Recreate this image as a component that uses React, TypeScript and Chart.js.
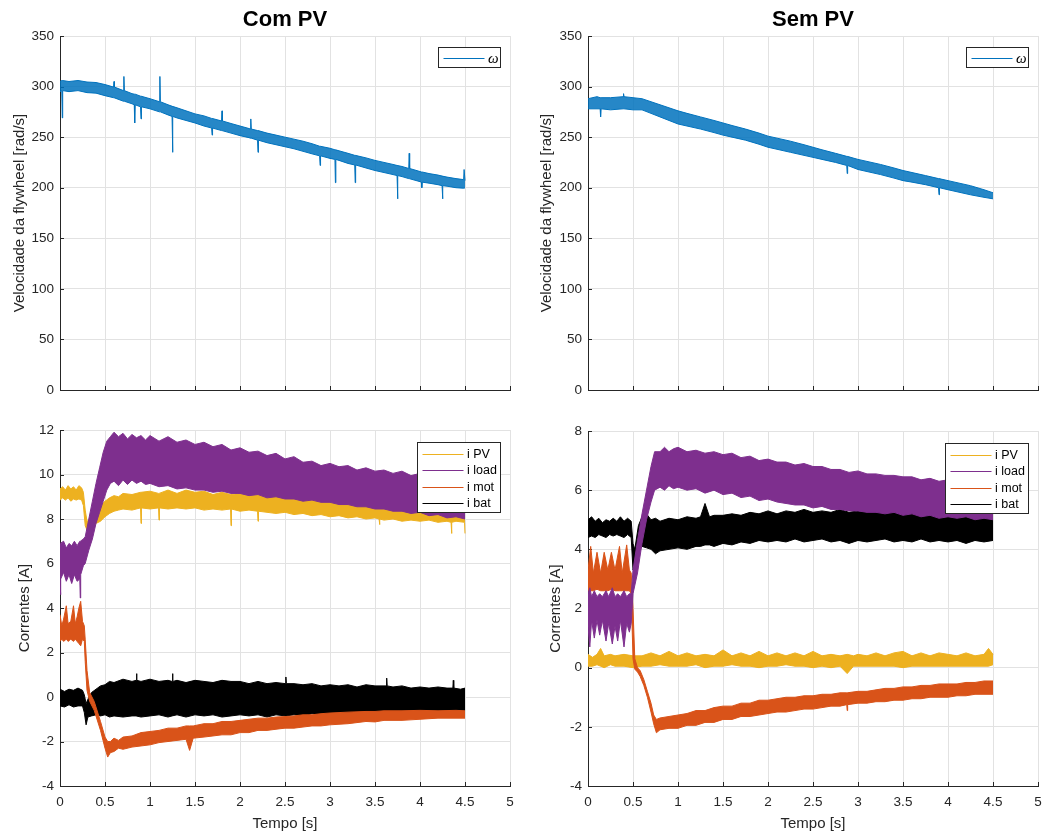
import React, { useEffect, useRef } from 'react';
import { Chart, registerables } from 'chart.js';

Chart.register(...registerables);

type Row = [number, number, number]; // [time, upper edge, lower edge]

const FONT = '"Liberation Sans", Arial, Helvetica, sans-serif';
const TEXT = '#262626';
const GRID = '#e2e2e2';

const C_OMEGA = '#0072BD';
const C_PV = '#EDB120';
const C_LOAD = '#7E2F8E';
const C_MOT = '#D95319';
const C_BAT = '#000000';

const titles = ['Com PV', 'Sem PV'];
const yLabelTop = 'Velocidade da flywheel [rad/s]';
const yLabelBottom = 'Correntes [A]';
const xLabel = 'Tempo [s]';
const legendTop = ['\u03c9'];
const legendBottom = ['i PV', 'i load', 'i mot', 'i bat'];

// ---- Com PV: flywheel speed band [t, hi, lo]
const omegaCom: Row[] = [
  [0.0, 305, 295], [0.02, 306, 296], [0.025, 306, 269], [0.03, 306, 296],
  [0.1, 305, 295], [0.2, 306, 296], [0.3, 304.5, 294], [0.4, 304, 293.5],
  [0.5, 302, 291], [0.595, 299.5, 289], [0.6, 305, 289], [0.605, 299.5, 289],
  [0.705, 296, 285.5], [0.71, 310, 285.5], [0.715, 296, 285.5], [0.8, 293, 283],
  [0.825, 292.5, 282], [0.83, 292.5, 264], [0.835, 292.5, 282], [0.895, 290.5, 280],
  [0.9, 290.5, 268], [0.905, 290.5, 280], [1.0, 288, 278], [1.105, 285, 275],
  [1.11, 310, 275], [1.115, 285, 275], [1.2, 282, 272], [1.245, 280.5, 270.5],
  [1.25, 280.5, 235], [1.255, 280.5, 270.5], [1.3, 279, 269], [1.4, 276, 266.5],
  [1.5, 273, 264], [1.6, 271, 261], [1.685, 268.5, 259], [1.69, 268.5, 252],
  [1.695, 268.5, 259], [1.795, 266, 256.5], [1.8, 276, 256.5], [1.805, 266, 256.5],
  [1.9, 263.5, 254], [2.0, 261, 251.5], [2.1, 258.5, 249.5], [2.115, 258, 249],
  [2.12, 268, 249], [2.125, 258, 249], [2.195, 256.5, 247], [2.2, 256.5, 235],
  [2.205, 256.5, 247], [2.3, 254, 244.5], [2.4, 252, 242.5], [2.5, 250, 240.5],
  [2.6, 248, 238.5], [2.7, 246, 236], [2.8, 243.5, 233.5], [2.885, 241, 231.5],
  [2.89, 241, 222], [2.895, 241, 231.5], [3.0, 239, 229], [3.055, 237.5, 228],
  [3.06, 237.5, 205], [3.065, 237.5, 228], [3.1, 236.5, 227], [3.2, 234, 224],
  [3.275, 232, 222.5], [3.28, 232, 205], [3.285, 232, 222.5], [3.4, 229.5, 219.5],
  [3.5, 227, 217], [3.6, 225, 215], [3.7, 223, 213], [3.745, 222, 212],
  [3.75, 222, 189], [3.755, 222, 212], [3.8, 221, 211], [3.875, 219, 209],
  [3.88, 234, 209], [3.885, 219, 209], [4.0, 216, 206], [4.015, 215.5, 205.5],
  [4.02, 215.5, 200], [4.025, 215.5, 205.5], [4.1, 214, 204.5], [4.2, 212.5, 203],
  [4.245, 211.5, 202], [4.25, 211.5, 189], [4.255, 211.5, 202], [4.3, 210.5, 201.5],
  [4.4, 209, 200], [4.485, 208, 199.5], [4.49, 218, 199.5], [4.5, 207, 200],
];

// ---- Sem PV: flywheel speed band
const omegaSem: Row[] = [
  [0.0, 288, 278], [0.1, 290, 278], [0.135, 289, 278], [0.14, 289, 270],
  [0.145, 289, 278], [0.25, 289, 277], [0.39, 290, 278], [0.395, 293, 278],
  [0.4, 290, 278], [0.5, 289, 277], [0.6, 288, 277], [0.7, 285, 273.5],
  [0.8, 282, 270], [0.9, 279, 266.5], [1.0, 276, 263], [1.1, 273.5, 261],
  [1.25, 270, 258], [1.4, 266.5, 254.5], [1.5, 264, 252], [1.6, 261.5, 250],
  [1.75, 258, 247], [1.9, 254, 243], [2.0, 251, 240], [2.1, 249, 238],
  [2.25, 246, 235], [2.4, 242.5, 232], [2.5, 240, 230], [2.6, 237.5, 228],
  [2.75, 234, 225], [2.875, 231, 222], [2.88, 231, 214], [2.885, 231, 222],
  [3.0, 228, 218], [3.1, 226, 216], [3.25, 223, 213], [3.4, 219.5, 209.5],
  [3.5, 217, 207], [3.6, 215, 205.5], [3.75, 212, 203], [3.895, 209, 200],
  [3.9, 209, 193], [3.905, 209, 200], [4.0, 207, 198], [4.1, 205, 196],
  [4.25, 202, 193], [4.4, 198, 190.5], [4.5, 195, 189],
];

// ---- Com PV currents
const pvCom: Row[] = [
  [0.0, 9.35, 8.85], [0.03, 9.45, 8.95], [0.06, 9.3, 8.85], [0.09, 9.5, 8.95],
  [0.12, 9.35, 8.8], [0.15, 9.45, 8.9], [0.18, 9.3, 8.85], [0.21, 9.5, 8.9],
  [0.24, 9.4, 8.85], [0.26, 9.2, 8.6], [0.28, 8.4, 7.7], [0.3, 7.9, 7.5],
  [0.35, 8.0, 7.6], [0.4, 8.3, 7.8], [0.45, 8.6, 7.9], [0.5, 8.8, 8.1],
  [0.55, 8.95, 8.25], [0.6, 9.05, 8.35], [0.65, 9.0, 8.4], [0.7, 9.15, 8.45],
  [0.8, 9.1, 8.4], [0.895, 9.2, 8.5], [0.9, 9.2, 7.8], [0.905, 9.2, 8.5],
  [1.0, 9.25, 8.45], [1.095, 9.15, 8.5], [1.1, 9.15, 7.95], [1.105, 9.15, 8.5],
  [1.2, 9.3, 8.45], [1.3, 9.15, 8.5], [1.4, 9.3, 8.45], [1.5, 9.2, 8.5],
  [1.6, 9.25, 8.4], [1.7, 9.1, 8.45], [1.8, 9.2, 8.4], [1.895, 9.1, 8.45],
  [1.9, 9.1, 7.7], [1.905, 9.1, 8.45], [2.0, 9.15, 8.35], [2.1, 9.05, 8.4],
  [2.195, 9.1, 8.35], [2.2, 9.1, 7.9], [2.205, 9.1, 8.35], [2.3, 9.0, 8.3],
  [2.4, 9.05, 8.25], [2.5, 8.95, 8.3], [2.6, 9.0, 8.2], [2.7, 8.9, 8.25],
  [2.8, 8.95, 8.15], [2.9, 8.85, 8.2], [3.0, 8.9, 8.1], [3.1, 8.8, 8.15],
  [3.2, 8.85, 8.05], [3.3, 8.75, 8.1], [3.4, 8.8, 8.0], [3.5, 8.7, 8.05],
  [3.545, 8.7, 8.0], [3.55, 8.7, 7.75], [3.555, 8.7, 8.0], [3.6, 8.75, 7.95],
  [3.7, 8.65, 8.0], [3.8, 8.7, 7.9], [3.9, 8.6, 7.95], [4.0, 8.65, 7.9],
  [4.1, 8.55, 7.95], [4.2, 8.6, 7.85], [4.3, 8.5, 7.9], [4.345, 8.5, 7.85],
  [4.35, 8.5, 7.35], [4.355, 8.5, 7.85], [4.4, 8.45, 7.9], [4.495, 8.4, 7.85],
  [4.5, 8.4, 7.35],
];

const loadCom: Row[] = [
  [0.0, 6.9, 5.2], [0.005, 6.9, 4.6], [0.01, 6.9, 5.3], [0.04, 7.0, 5.6],
  [0.07, 6.7, 5.2], [0.1, 6.9, 5.5], [0.13, 6.8, 5.1], [0.16, 7.0, 5.5],
  [0.19, 6.8, 5.2], [0.22, 7.0, 5.3], [0.225, 7.0, 4.45], [0.23, 7.0, 5.5],
  [0.26, 7.1, 5.9], [0.28, 7.2, 6.0], [0.32, 8.0, 6.6], [0.36, 8.8, 7.1],
  [0.4, 9.6, 7.8], [0.44, 10.3, 8.3], [0.48, 11.0, 8.8], [0.52, 11.5, 9.3],
  [0.56, 11.7, 9.6], [0.6, 11.9, 9.7], [0.65, 11.7, 9.5], [0.7, 11.85, 9.75],
  [0.75, 11.6, 9.55], [0.8, 11.8, 9.75], [0.85, 11.65, 9.6], [0.9, 11.75, 9.7],
  [0.95, 11.55, 9.55], [1.0, 11.75, 9.6], [1.1, 11.5, 9.45], [1.2, 11.7, 9.5],
  [1.3, 11.45, 9.35], [1.4, 11.55, 9.4], [1.5, 11.35, 9.3], [1.6, 11.45, 9.3],
  [1.7, 11.25, 9.2], [1.8, 11.35, 9.25], [1.9, 11.1, 9.15], [2.0, 11.2, 9.15],
  [2.1, 11.0, 9.05], [2.2, 11.05, 9.1], [2.3, 10.85, 8.95], [2.4, 10.95, 9.0],
  [2.5, 10.7, 8.9], [2.6, 10.8, 8.9], [2.7, 10.55, 8.8], [2.8, 10.6, 8.85],
  [2.9, 10.4, 8.75], [3.0, 10.5, 8.75], [3.1, 10.35, 8.65], [3.2, 10.4, 8.65],
  [3.3, 10.2, 8.55], [3.4, 10.3, 8.55], [3.5, 10.15, 8.45], [3.6, 10.2, 8.45],
  [3.7, 10.05, 8.35], [3.8, 10.15, 8.35], [3.9, 9.95, 8.25], [4.0, 10.05, 8.3],
  [4.1, 9.9, 8.15], [4.2, 9.95, 8.2], [4.3, 9.8, 8.05], [4.4, 9.85, 8.1],
  [4.5, 9.7, 8.0],
];

const motCom: Row[] = [
  [0.0, 3.7, 2.5], [0.02, 3.2, 2.6], [0.04, 3.5, 2.5], [0.07, 4.1, 2.6],
  [0.09, 3.3, 2.5], [0.12, 3.4, 2.6], [0.15, 4.1, 2.5], [0.17, 3.3, 2.6],
  [0.19, 3.6, 2.5], [0.21, 4.0, 2.4], [0.23, 4.3, 2.3], [0.25, 3.4, 2.6],
  [0.27, 3.2, 2.5], [0.28, 2.6, 1.6], [0.3, 1.2, 0.3], [0.33, 0.2, -0.2],
  [0.38, -0.2, -0.6], [0.45, -1.1, -1.5], [0.5, -1.8, -2.3], [0.53, -2.0, -2.7],
  [0.56, -2.0, -2.5], [0.6, -1.85, -2.45], [0.65, -1.95, -2.3], [0.7, -1.8, -2.35],
  [0.8, -1.75, -2.25], [0.9, -1.6, -2.2], [1.0, -1.55, -2.15], [1.1, -1.5, -2.05],
  [1.2, -1.4, -2.0], [1.3, -1.4, -1.95], [1.4, -1.3, -1.9], [1.44, -1.3, -2.4],
  [1.48, -1.3, -1.85], [1.6, -1.2, -1.8], [1.7, -1.2, -1.75], [1.8, -1.1, -1.7],
  [1.9, -1.1, -1.7], [2.0, -1.05, -1.6], [2.1, -1.0, -1.6], [2.2, -0.95, -1.5],
  [2.3, -0.95, -1.5], [2.4, -0.9, -1.45], [2.5, -0.88, -1.4], [2.6, -0.85, -1.4],
  [2.7, -0.8, -1.35], [2.8, -0.8, -1.3], [2.9, -0.75, -1.3], [3.0, -0.72, -1.25],
  [3.2, -0.68, -1.2], [3.4, -0.65, -1.1], [3.5, -0.65, -1.12], [3.6, -0.62, -1.05],
  [3.8, -0.62, -1.05], [4.0, -0.6, -1.0], [4.2, -0.62, -0.95], [4.4, -0.6, -0.95],
  [4.5, -0.62, -0.95],
];

const batCom: Row[] = [
  [0.0, 0.35, -0.4], [0.05, 0.25, -0.45], [0.1, 0.35, -0.35], [0.15, 0.3, -0.45],
  [0.2, 0.4, -0.4], [0.25, 0.3, -0.4], [0.27, 0.1, -0.7], [0.29, -0.3, -1.25],
  [0.31, -0.1, -0.9], [0.35, 0.2, -0.85], [0.4, 0.35, -0.8], [0.45, 0.5, -0.85],
  [0.5, 0.55, -0.8], [0.55, 0.7, -0.9], [0.6, 0.65, -0.85], [0.7, 0.8, -0.9],
  [0.8, 0.7, -0.85], [0.845, 0.75, -0.85], [0.85, 1.05, -0.85], [0.855, 0.75, -0.85],
  [0.9, 0.7, -0.9], [1.0, 0.8, -0.85], [1.1, 0.7, -0.8], [1.2, 0.75, -0.9],
  [1.245, 0.7, -0.85], [1.25, 1.05, -0.85], [1.255, 0.7, -0.85], [1.3, 0.75, -0.8],
  [1.4, 0.65, -0.9], [1.5, 0.75, -0.8], [1.6, 0.7, -0.85], [1.7, 0.65, -0.8],
  [1.8, 0.75, -0.9], [1.9, 0.7, -0.85], [2.0, 0.7, -0.8], [2.1, 0.6, -0.85],
  [2.2, 0.7, -0.8], [2.3, 0.6, -0.9], [2.4, 0.65, -0.8], [2.505, 0.6, -0.85],
  [2.51, 0.9, -0.85], [2.515, 0.6, -0.85], [2.6, 0.6, -0.8], [2.7, 0.55, -0.85],
  [2.8, 0.6, -0.75], [2.9, 0.5, -0.8], [3.0, 0.55, -0.75], [3.1, 0.5, -0.8],
  [3.2, 0.55, -0.75], [3.3, 0.45, -0.8], [3.4, 0.55, -0.75], [3.5, 0.5, -0.8],
  [3.625, 0.5, -0.8], [3.63, 0.85, -0.8], [3.635, 0.5, -0.8], [3.7, 0.45, -0.75],
  [3.8, 0.5, -0.85], [3.9, 0.4, -0.8], [4.0, 0.45, -0.85], [4.1, 0.4, -0.8],
  [4.2, 0.45, -0.85], [4.3, 0.4, -0.9], [4.365, 0.4, -0.85], [4.37, 0.75, -0.85],
  [4.375, 0.4, -0.85], [4.45, 0.35, -0.9], [4.5, 0.4, -0.85],
];

// ---- Sem PV currents
const pvSem: Row[] = [
  [0.0, 0.45, 0.05], [0.05, 0.35, 0.05], [0.1, 0.45, 0.1], [0.14, 0.65, 0.05],
  [0.18, 0.4, 0.0], [0.25, 0.45, 0.1], [0.3, 0.4, 0.05], [0.4, 0.45, 0.05],
  [0.5, 0.4, 0.0], [0.6, 0.4, 0.05], [0.7, 0.5, 0.05], [0.8, 0.4, 0.1],
  [0.9, 0.55, 0.05], [1.0, 0.4, 0.05], [1.1, 0.5, 0.05], [1.2, 0.4, 0.1],
  [1.3, 0.45, 0.0], [1.4, 0.4, 0.05], [1.5, 0.6, 0.05], [1.6, 0.4, 0.1],
  [1.7, 0.5, 0.05], [1.8, 0.4, 0.05], [1.9, 0.55, 0.0], [2.0, 0.4, 0.05],
  [2.1, 0.5, 0.05], [2.2, 0.4, 0.1], [2.3, 0.5, 0.05], [2.4, 0.4, 0.05],
  [2.5, 0.55, 0.0], [2.6, 0.4, 0.05], [2.7, 0.45, 0.0], [2.8, 0.4, 0.05],
  [2.88, 0.45, -0.2], [2.95, 0.4, 0.05], [3.0, 0.45, 0.05], [3.1, 0.4, 0.05],
  [3.2, 0.5, 0.05], [3.3, 0.4, 0.05], [3.4, 0.5, 0.05], [3.5, 0.55, 0.0],
  [3.6, 0.4, 0.05], [3.7, 0.5, 0.05], [3.8, 0.4, 0.05], [3.9, 0.5, 0.05],
  [4.0, 0.45, 0.05], [4.1, 0.4, 0.05], [4.2, 0.5, 0.05], [4.3, 0.4, 0.05],
  [4.4, 0.45, 0.05], [4.45, 0.65, 0.05], [4.5, 0.45, 0.1],
];

const loadSem: Row[] = [
  [0.0, 2.5, 1.4], [0.02, 2.7, 0.7], [0.04, 2.4, 1.6], [0.07, 2.6, 1.0],
  [0.1, 2.4, 1.6], [0.13, 2.5, 1.1], [0.16, 2.4, 1.6], [0.2, 2.6, 0.9],
  [0.23, 2.4, 1.5], [0.27, 2.7, 0.8], [0.3, 2.4, 1.4], [0.33, 2.5, 0.9],
  [0.36, 2.4, 1.6], [0.4, 2.6, 0.7], [0.43, 2.4, 1.5], [0.46, 2.5, 1.2],
  [0.48, 2.5, 1.5], [0.5, 3.3, 2.5], [0.55, 4.3, 3.2], [0.6, 5.2, 4.2],
  [0.65, 6.0, 5.0], [0.7, 6.8, 5.6], [0.74, 7.3, 6.0], [0.8, 7.3, 6.1],
  [0.85, 7.45, 6.0], [0.9, 7.3, 6.15], [0.95, 7.4, 6.05], [1.0, 7.45, 6.1],
  [1.1, 7.3, 6.0], [1.2, 7.35, 6.05], [1.3, 7.25, 5.9], [1.4, 7.3, 6.0],
  [1.5, 7.2, 5.85], [1.6, 7.25, 5.9], [1.7, 7.1, 5.75], [1.8, 7.15, 5.8],
  [1.9, 7.0, 5.65], [2.0, 7.05, 5.7], [2.1, 6.95, 5.6], [2.2, 6.95, 5.55],
  [2.3, 6.85, 5.5], [2.4, 6.9, 5.5], [2.5, 6.8, 5.4], [2.6, 6.8, 5.45],
  [2.7, 6.7, 5.35], [2.8, 6.7, 5.35], [2.9, 6.6, 5.3], [3.0, 6.65, 5.3],
  [3.1, 6.55, 5.25], [3.2, 6.55, 5.25], [3.3, 6.5, 5.2], [3.4, 6.5, 5.25],
  [3.5, 6.45, 5.15], [3.6, 6.45, 5.2], [3.7, 6.35, 5.1], [3.8, 6.4, 5.15],
  [3.9, 6.3, 5.05], [4.0, 6.35, 5.1], [4.1, 6.25, 5.05], [4.2, 6.3, 5.1],
  [4.3, 6.2, 5.0], [4.4, 6.25, 5.05], [4.5, 6.2, 5.0],
];

const motSem: Row[] = [
  [0.0, 3.3, 2.6], [0.03, 4.1, 2.6], [0.06, 3.2, 2.6], [0.1, 3.9, 2.65],
  [0.14, 3.2, 2.6], [0.18, 3.9, 2.6], [0.22, 3.3, 2.6], [0.26, 3.9, 2.65],
  [0.3, 3.3, 2.6], [0.35, 4.1, 2.6], [0.38, 3.2, 2.6], [0.43, 4.15, 2.6],
  [0.46, 3.3, 2.6], [0.48, 3.2, 2.5], [0.5, 2.0, 0.3], [0.52, 0.3, -0.05],
  [0.55, 0.0, -0.15], [0.58, -0.1, -0.3], [0.62, -0.4, -0.6], [0.66, -0.8, -1.0],
  [0.7, -1.2, -1.5], [0.73, -1.6, -1.9], [0.76, -1.75, -2.2], [0.8, -1.7, -2.1],
  [0.9, -1.65, -2.05], [1.0, -1.6, -2.05], [1.1, -1.55, -1.95], [1.2, -1.45, -1.95],
  [1.3, -1.45, -1.85], [1.4, -1.35, -1.85], [1.5, -1.3, -1.75], [1.6, -1.3, -1.75],
  [1.7, -1.2, -1.65], [1.8, -1.2, -1.65], [1.9, -1.1, -1.6], [2.0, -1.1, -1.55],
  [2.1, -1.05, -1.5], [2.2, -1.0, -1.5], [2.3, -1.0, -1.45], [2.4, -0.95, -1.4],
  [2.5, -0.95, -1.4], [2.6, -0.9, -1.35], [2.7, -0.9, -1.3], [2.8, -0.85, -1.3],
  [2.875, -0.85, -1.25], [2.88, -0.85, -1.45], [2.885, -0.85, -1.25], [3.0, -0.8, -1.2],
  [3.1, -0.8, -1.2], [3.2, -0.75, -1.15], [3.3, -0.7, -1.15], [3.4, -0.7, -1.1],
  [3.5, -0.65, -1.1], [3.6, -0.65, -1.05], [3.7, -0.6, -1.05], [3.8, -0.6, -1.0],
  [3.9, -0.55, -1.0], [4.0, -0.55, -1.0], [4.1, -0.55, -0.95], [4.2, -0.5, -0.95],
  [4.3, -0.5, -0.9], [4.4, -0.45, -0.9], [4.5, -0.45, -0.9],
];

const batSem: Row[] = [
  [0.0, 5.0, 4.4], [0.04, 5.1, 4.45], [0.08, 4.95, 4.4], [0.12, 5.05, 4.5],
  [0.16, 4.9, 4.45], [0.2, 5.0, 4.4], [0.24, 4.95, 4.5], [0.28, 5.05, 4.45],
  [0.32, 4.95, 4.5], [0.36, 5.1, 4.45], [0.4, 4.95, 4.4], [0.44, 5.05, 4.5],
  [0.48, 4.95, 4.4], [0.5, 4.2, 3.3], [0.52, 4.0, 3.5], [0.56, 4.8, 3.9],
  [0.6, 5.1, 4.1], [0.65, 5.2, 4.05], [0.7, 5.0, 4.0], [0.75, 5.05, 3.85],
  [0.8, 4.95, 3.95], [0.9, 5.05, 4.0], [1.0, 5.0, 4.05], [1.1, 5.1, 4.0],
  [1.2, 5.05, 4.1], [1.25, 5.1, 4.1], [1.3, 5.55, 4.15], [1.35, 5.1, 4.15],
  [1.4, 5.15, 4.1], [1.5, 5.15, 4.2], [1.6, 5.2, 4.15], [1.7, 5.15, 4.25],
  [1.8, 5.25, 4.2], [1.9, 5.2, 4.3], [2.0, 5.3, 4.25], [2.1, 5.2, 4.3],
  [2.2, 5.3, 4.25], [2.3, 5.25, 4.35], [2.4, 5.35, 4.25], [2.5, 5.25, 4.3],
  [2.6, 5.3, 4.35], [2.7, 5.25, 4.25], [2.8, 5.35, 4.3], [2.9, 5.25, 4.2],
  [3.0, 5.3, 4.3], [3.1, 5.25, 4.25], [3.2, 5.35, 4.3], [3.3, 5.25, 4.35],
  [3.4, 5.3, 4.25], [3.5, 5.25, 4.3], [3.6, 5.35, 4.25], [3.7, 5.25, 4.35],
  [3.8, 5.3, 4.25], [3.9, 5.25, 4.3], [4.0, 5.3, 4.25], [4.1, 5.25, 4.3],
  [4.2, 5.3, 4.2], [4.3, 5.25, 4.3], [4.4, 5.3, 4.25], [4.5, 5.25, 4.3],
];

interface Band {
  label: string;
  color: string;
  fill: string;
  rows: Row[];
  order: number;
}

interface PanelProps {
  left: number;
  top: number;
  width: number;
  height: number;
  padding: { top: number; right: number; bottom: number; left: number };
  yWidth: number;
  yTitlePad: number;
  yMin: number;
  yMax: number;
  yStep: number;
  yLabel: string;
  title?: string;
  showX: boolean;
  bands: Band[];
  legend: { label: string; color: string }[];
  legendBox: { w: number; h: number; top: number; right: number; row: number; first: number; italic: boolean };
}

function buildDatasets(bands: Band[]) {
  const ds: any[] = [];
  bands.forEach((b) => {
    ds.push({
      label: b.label,
      data: b.rows.map((r) => ({ x: r[0], y: r[1] })),
      borderColor: b.color,
      borderWidth: 1,
      pointRadius: 0,
      tension: 0,
      fill: false,
      order: b.order,
    });
    ds.push({
      label: b.label + ' (min)',
      data: b.rows.map((r) => ({ x: r[0], y: r[2] })),
      borderColor: b.color,
      backgroundColor: b.fill,
      borderWidth: 1,
      pointRadius: 0,
      tension: 0,
      fill: '-1',
      order: b.order,
    });
  });
  return ds;
}

function Panel(p: PanelProps) {
  const ref = useRef<HTMLCanvasElement | null>(null);
  useEffect(() => {
    if (!ref.current) return;
    const titlePlugin = {
      id: 'panelTitle',
      afterDraw(chart: any) {
        if (!p.title) return;
        const { ctx, chartArea } = chart;
        ctx.save();
        ctx.font = `bold 22px ${FONT}`;
        ctx.fillStyle = '#000';
        ctx.textAlign = 'center';
        ctx.textBaseline = 'middle';
        ctx.fillText(p.title, (chartArea.left + chartArea.right) / 2, 20);
        ctx.restore();
      },
    };
    const tickPlugin = {
      id: 'inTicks',
      beforeDatasetsDraw(chart: any) {
        const { ctx, chartArea: a, scales } = chart;
        ctx.save();
        ctx.strokeStyle = TEXT;
        ctx.lineWidth = 1;
        ctx.beginPath();
        scales.x.ticks.forEach((t: any) => {
          const px = Math.round(scales.x.getPixelForValue(t.value)) + 0.5;
          ctx.moveTo(px, a.bottom);
          ctx.lineTo(px, a.bottom - 4);
        });
        scales.y.ticks.forEach((t: any) => {
          const py = Math.round(scales.y.getPixelForValue(t.value)) + 0.5;
          ctx.moveTo(a.left, py);
          ctx.lineTo(a.left + 4, py);
        });
        ctx.stroke();
        ctx.restore();
      },
    };
    const legendPlugin = {
      id: 'boxLegend',
      afterDatasetsDraw(chart: any) {
        const { ctx, chartArea: a } = chart;
        const L = p.legendBox;
        const bx = Math.round(a.right - L.right - L.w) + 0.5;
        const by = Math.round(a.top + L.top) + 0.5;
        ctx.save();
        ctx.fillStyle = '#fff';
        ctx.fillRect(bx, by, L.w, L.h);
        ctx.strokeStyle = TEXT;
        ctx.lineWidth = 1;
        ctx.strokeRect(bx, by, L.w, L.h);
        p.legend.forEach((e, i) => {
          const cy = Math.round(by + L.first + i * L.row) + 0.5;
          ctx.strokeStyle = e.color;
          ctx.beginPath();
          ctx.moveTo(bx + 5, cy);
          ctx.lineTo(bx + 46, cy);
          ctx.stroke();
          ctx.fillStyle = '#000';
          ctx.textBaseline = 'middle';
          ctx.textAlign = 'left';
          ctx.font = L.italic ? `italic 15px "Liberation Serif", "DejaVu Serif", serif` : `12.5px ${FONT}`;
          ctx.fillText(e.label, bx + 49.5, cy + 0.5);
        });
        ctx.restore();
      },
    };
    const chart = new Chart(ref.current, {
      type: 'line',
      data: { datasets: buildDatasets(p.bands) },
      options: {
        animation: false,
        responsive: false,
        maintainAspectRatio: false,
        devicePixelRatio: 1,
        layout: { padding: p.padding },
        plugins: {
          legend: { display: false },
          tooltip: { enabled: false },
          title: { display: false },
        },
        scales: {
          x: {
            type: 'linear',
            min: 0,
            max: 5,
            ticks: {
              stepSize: 0.5,
              display: p.showX,
              color: TEXT,
              font: { family: FONT, size: 13.5 },
              padding: 8,
              autoSkip: false,
              maxRotation: 0,
              callback: (v: any) => String(Math.round(Number(v) * 10) / 10),
            },
            grid: { color: GRID, drawTicks: false },
            border: { color: TEXT, width: 1 },
            title: {
              display: p.showX,
              text: xLabel,
              color: TEXT,
              font: { family: FONT, size: 15 },
              padding: { top: 0, bottom: 1.5 },
            },
            afterFit: (s: any) => {
              s.height = p.showX ? 48 : 0;
              s.paddingLeft = 0;
              s.paddingRight = 0;
            },
          },
          y: {
            type: 'linear',
            min: p.yMin,
            max: p.yMax,
            ticks: {
              stepSize: p.yStep,
              color: TEXT,
              font: { family: FONT, size: 13.5 },
              padding: 6,
              autoSkip: false,
            },
            grid: { color: GRID, drawTicks: false },
            border: { color: TEXT, width: 1 },
            title: {
              display: true,
              text: p.yLabel,
              color: TEXT,
              font: { family: FONT, size: 15 },
              padding: { top: p.yTitlePad, bottom: 0 },
            },
            afterFit: (s: any) => {
              s.width = p.yWidth;
              s.paddingTop = 0;
              s.paddingBottom = 0;
            },
          },
        },
      } as any,
      plugins: [titlePlugin, tickPlugin, legendPlugin],
    });
    return () => chart.destroy();
  }, []);
  return (
    <canvas
      ref={ref}
      width={p.width}
      height={p.height}
      style={{ position: 'absolute', left: p.left, top: p.top, width: p.width, height: p.height }}
    />
  );
}

const omegaFill = 'rgba(0,114,189,0.85)';

const topLegendBox = { w: 62, h: 20, top: 11, right: 10, row: 0, first: 10, italic: true };
const botLegendBox = { w: 83, h: 70, top: 12, right: 10, row: 16.6, first: 11, italic: false };

const bottomLegend = [
  { label: legendBottom[0], color: C_PV },
  { label: legendBottom[1], color: C_LOAD },
  { label: legendBottom[2], color: C_MOT },
  { label: legendBottom[3], color: C_BAT },
];

function currentBands(pv: Row[], load: Row[], mot: Row[], bat: Row[]): Band[] {
  return [
    { label: legendBottom[0], color: C_PV, fill: C_PV, rows: pv, order: 3 },
    { label: legendBottom[1], color: C_LOAD, fill: C_LOAD, rows: load, order: 0 },
    { label: legendBottom[2], color: C_MOT, fill: C_MOT, rows: mot, order: 1 },
    { label: legendBottom[3], color: C_BAT, fill: C_BAT, rows: bat, order: 2 },
  ];
}

export default function App() {
  return (
    <div style={{ position: 'fixed', left: 0, top: 0, width: 1045, height: 834, background: '#fff', overflow: 'hidden' }}>
      <Panel
        left={0} top={0} width={520} height={400}
        padding={{ top: 36, right: 10, bottom: 10, left: 0 }}
        yWidth={60} yTitlePad={10.5}
        yMin={0} yMax={350} yStep={50}
        yLabel={yLabelTop} title={titles[0]} showX={false}
        bands={[{ label: legendTop[0], color: C_OMEGA, fill: omegaFill, rows: omegaCom, order: 0 }]}
        legend={[{ label: legendTop[0], color: C_OMEGA }]}
        legendBox={topLegendBox}
      />
      <Panel
        left={527} top={0} width={518} height={400}
        padding={{ top: 36, right: 7, bottom: 10, left: 0 }}
        yWidth={61} yTitlePad={10.5}
        yMin={0} yMax={350} yStep={50}
        yLabel={yLabelTop} title={titles[1]} showX={false}
        bands={[{ label: legendTop[0], color: C_OMEGA, fill: omegaFill, rows: omegaSem, order: 0 }]}
        legend={[{ label: legendTop[0], color: C_OMEGA }]}
        legendBox={topLegendBox}
      />
      <Panel
        left={0} top={420} width={520} height={414}
        padding={{ top: 10, right: 10, bottom: 0, left: 0 }}
        yWidth={60} yTitlePad={16}
        yMin={-4} yMax={12} yStep={2}
        yLabel={yLabelBottom} showX={true}
        bands={currentBands(pvCom, loadCom, motCom, batCom)}
        legend={bottomLegend}
        legendBox={botLegendBox}
      />
      <Panel
        left={527} top={420} width={518} height={414}
        padding={{ top: 11, right: 7, bottom: 0, left: 0 }}
        yWidth={61} yTitlePad={20}
        yMin={-4} yMax={8} yStep={2}
        yLabel={yLabelBottom} showX={true}
        bands={currentBands(pvSem, loadSem, motSem, batSem)}
        legend={bottomLegend}
        legendBox={botLegendBox}
      />
    </div>
  );
}
